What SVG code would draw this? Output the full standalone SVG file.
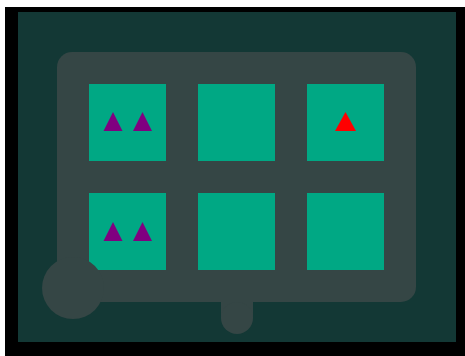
<svg xmlns="http://www.w3.org/2000/svg" width="465" height="356" viewBox="0 0 465 356">
<style>
.cell{fill:#00a884}
.pipe{fill:#354645}
.tp{fill:#800080}
.tr{fill:#ff0000}
</style>
<rect x="0" y="0" width="465" height="356" fill="#ffffff"/>
<rect x="5" y="7" width="460" height="349" fill="#000000"/>
<rect x="18" y="12" width="438" height="330" fill="#133835"/>
<g id="frame">
<rect class="pipe" x="57" y="52" width="359" height="250" rx="15"/>
<rect class="pipe" x="221" y="290" width="32" height="28"/>
<circle class="pipe" cx="237" cy="318" r="16"/>
</g>
<g id="cell-1-1"><rect class="cell" x="89" y="84" width="77" height="77"/>
<polygon class="tp" points="113,112 103.5,131 122.5,131"/>
<polygon class="tp" points="142.5,112 133,131 152,131"/></g>
<g id="cell-1-2"><rect class="cell" x="198" y="84" width="77" height="77"/></g>
<g id="cell-1-3"><rect class="cell" x="307" y="84" width="77" height="77"/>
<polygon class="tr" points="345.5,112 335,131 356,131"/></g>
<g id="cell-2-1"><rect class="cell" x="89" y="193" width="77" height="77"/>
<polygon class="tp" points="113,222 103.5,241 122.5,241"/>
<polygon class="tp" points="142.5,222 133,241 152,241"/></g>
<g id="cell-2-2"><rect class="cell" x="198" y="193" width="77" height="77"/></g>
<g id="cell-2-3"><rect class="cell" x="307" y="193" width="77" height="77"/></g>
<g id="hub"><circle class="pipe" cx="73" cy="288" r="31"/></g>
<g id="connectors"></g>
</svg>
